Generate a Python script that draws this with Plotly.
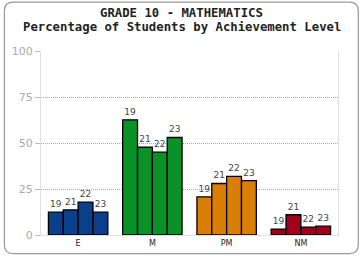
import plotly.graph_objects as go

categories = ["E", "M", "PM", "NM"]
years = ["19", "21", "22", "23"]
values = {
    "E": [12.4, 13.7, 17.9, 12.4],
    "M": [62.6, 47.7, 45.0, 53.0],
    "PM": [20.7, 28.0, 31.9, 29.6],
    "NM": [3.2, 11.0, 4.3, 4.8],
}
colors = {"E": "#0b3f8c", "M": "#0a9128", "PM": "#d97e06", "NM": "#a0001e"}
y_ticks = [0, 25, 50, 75, 100]
title_lines = ["GRADE 10 - MATHEMATICS", "Percentage of Students by Achievement Level"]

fig = go.Figure()
for i, yr in enumerate(years):
    fig.add_trace(go.Bar(
        x=categories,
        y=[values[c][i] for c in categories],
        marker=dict(color=[colors[c] for c in categories], line=dict(color="black", width=1.3)),
        text=[yr] * len(categories),
        textposition="outside",
        textfont=dict(family="DejaVu Sans", size=9, color="#444"),
        cliponaxis=False,
        hoverinfo="skip",
    ))

W, H = 360, 260
L, R, T, B = 38, 22, 51, 21
pw, ph = W - L - R, H - T - B

def px(x):
    return (x - L) / pw

def py(y):
    return (H - B - y) / ph

x0, x1, y0, y1, r = 1, 358.5, 1, 258, 9
path = (f"M {px(x0+r)},{py(y0)} L {px(x1-r)},{py(y0)} "
        f"Q {px(x1)},{py(y0)} {px(x1)},{py(y0+r)} "
        f"L {px(x1)},{py(y1-r)} Q {px(x1)},{py(y1)} {px(x1-r)},{py(y1)} "
        f"L {px(x0+r)},{py(y1)} Q {px(x0)},{py(y1)} {px(x0)},{py(y1-r)} "
        f"L {px(x0)},{py(y0+r)} Q {px(x0)},{py(y0)} {px(x0+r)},{py(y0)} Z")

annotations = []
for line, yc in zip(title_lines, [12.5, 26]):
    annotations.append(dict(
        text=f"<b>{line}</b>", xref="paper", yref="paper",
        x=px(180), y=py(yc), xanchor="center", yanchor="middle",
        showarrow=False,
        font=dict(family="DejaVu Sans Mono", size=12.3, color="#222"),
    ))

fig.update_layout(
    width=W, height=H,
    margin=dict(l=L, r=R, t=T, b=B),
    paper_bgcolor="white", plot_bgcolor="white",
    barmode="group", bargap=0.2, bargroupgap=0,
    showlegend=False,
    xaxis=dict(
        showgrid=False, showline=True, linecolor="#e0e0e0", linewidth=1,
        ticks="", tickfont=dict(family="DejaVu Sans", size=8, color="#222"),
        fixedrange=True,
    ),
    yaxis=dict(
        range=[0, 100], tickvals=y_ticks, ticks="outside", ticklen=5, tickcolor="#bbb",
        showgrid=True, gridcolor="#a8a8a8", griddash="1px,1px", gridwidth=1,
        showline=True, linecolor="#e0e0e0", mirror=True, zeroline=False,
        tickfont=dict(family="DejaVu Sans", size=11, color="#aaa"),
        fixedrange=True,
    ),
    annotations=annotations,
    shapes=[dict(type="path", xref="paper", yref="paper", path=path,
                 line=dict(color="#999", width=1.2), layer="below")],
)

fig.write_html("out.html", config={"displayModeBar": False})
